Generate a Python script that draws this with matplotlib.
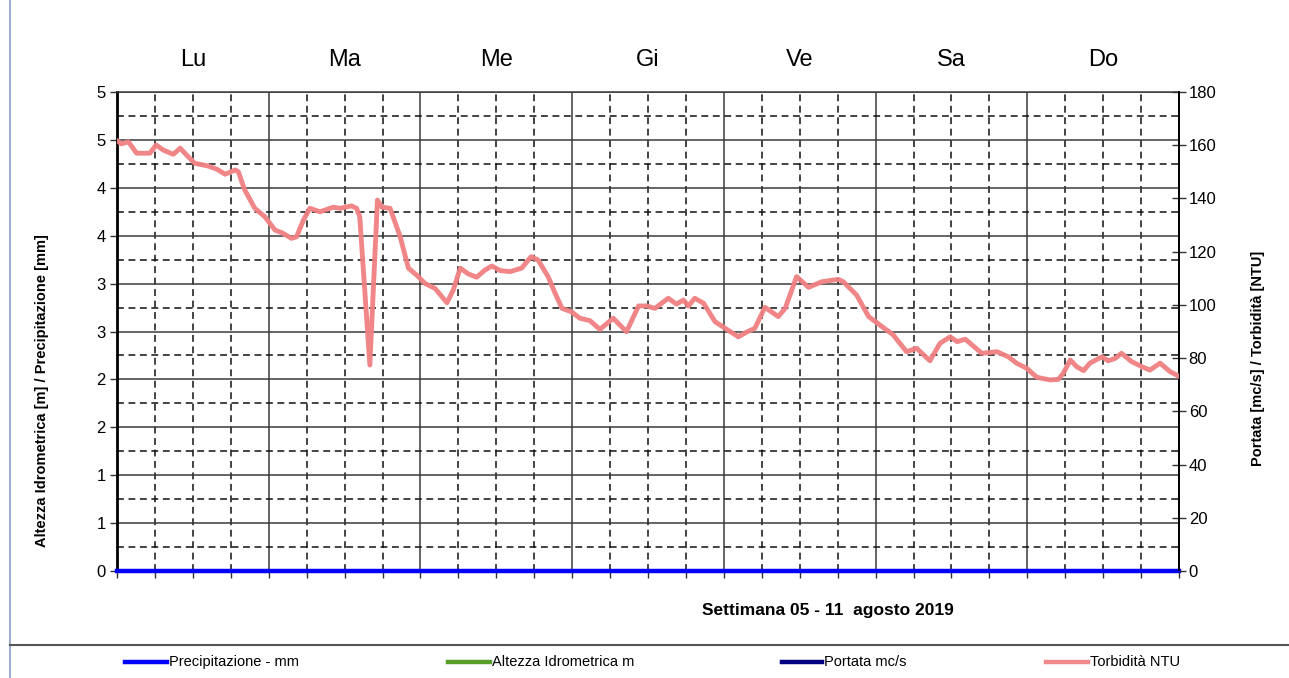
import math
import matplotlib
matplotlib.use("Agg")
import matplotlib.pyplot as plt
from matplotlib.ticker import MultipleLocator, FuncFormatter
from matplotlib.lines import Line2D
from matplotlib.transforms import blended_transform_factory

plt.rcParams['font.family'] = ['Liberation Sans', 'DejaVu Sans']

# ---------------- data ----------------
days = ["Lu", "Ma", "Me", "Gi", "Ve", "Sa", "Do"]
hours_turb = [0, 0.7, 1.8, 3.1, 5.2, 6.2, 7.3, 8.9, 10, 11, 12.3, 14.4, 15.8, 17.1, 18.7, 19.2,
              20.2, 21.8, 23.4, 25, 26.1, 27.6, 28.4, 29.5, 30.5, 32.1, 34.2, 35.3, 37.1, 37.9,
              38.4, 40.0, 41.2, 41.9, 43.2, 44.8, 46.1, 47.4, 48.7, 50.3, 52.2, 53.2, 54.3,
              55.6, 56.9, 58.2, 59.3, 60.6, 62.2, 64.0, 65.5, 66.6, 68.2, 69.3, 70.4, 71.9,
              73.2, 74.8, 76.4, 78.5, 80.6, 82.5, 83.8, 85.1, 87.2, 88.5, 89.6, 90.4, 91.4,
              92.8, 94.6, 96.2, 98.3, 99.7, 100.9, 102.5, 104.6, 105.7, 107.5, 109.4, 111.5,
              114.1, 114.9, 117.0, 118.9, 120.7, 122.8, 124.9, 126.5, 128.6, 130.2, 131.8,
              132.9, 134.2, 136.8, 139.2, 141.0, 142.3, 143.9, 145.5, 147.6, 148.9, 149.7,
              150.8, 151.8, 152.9, 153.9, 155.8, 156.8, 157.9, 158.9, 160.5, 162.1, 163.4,
              165.0, 166.6, 167.9]
torbidita = [161.7, 160.5, 161.3, 157, 157, 160.1, 158.2, 156.6, 158.9, 156.3, 153.2, 152.2,
             151, 149.1, 150.7, 150, 143.2, 136.3, 133.1, 128.1, 127.1, 125, 125.6, 131.9,
             136.3, 135, 136.7, 136.3, 137.2, 136.3, 133.1, 77.4, 139.4, 136.7, 136.3, 125.6,
             113.8, 111.2, 108.1, 106.2, 100.8, 105.6, 113.8, 111.6, 110.4, 113.1, 114.6,
             112.9, 112.5, 113.8, 118.1, 116.9, 110.6, 104.4, 98.7, 97.4, 95, 94.1, 90.8, 95,
             89.9, 99.6, 99.6, 98.7, 102.5, 100.3, 101.8, 99.6, 102.5, 100.6, 93.7, 91.2,
             88.0, 89.9, 91.2, 99.1, 95.6, 98.7, 110.6, 106.6, 108.7, 109.6, 108.7, 103.7,
             95.6, 92.4, 88.7, 82.4, 83.7, 79.0, 85.6, 88.0, 86.2, 87.1, 81.8, 82.4, 80.5,
             78.1, 76.2, 72.8, 71.8, 72.0, 74.3, 79.3, 76.8, 75.3, 78.1, 80.5, 79.0, 79.9,
             81.8, 78.7, 76.8, 75.5, 78.1, 74.9, 73.3]
hours_prec = [0, 168]
precipitazione = [0, 0]

legend_labels = ["Precipitazione - mm", "Altezza Idrometrica m", "Portata mc/s", "Torbidità NTU"]
legend_colors = ["#0000FF", "#5A9E2A", "#000080", "#F08A8C"]

# ---------------- figure ----------------
W, H = 1289, 678
fig = plt.figure(figsize=(W / 100, H / 100), dpi=100)
fig.patch.set_facecolor("white")

def fx(px):
    return px / W

def fy(py):
    return 1 - py / H

left, right, top, bottom = 117, 1179, 92, 571
ax = fig.add_axes([fx(left), fy(bottom), fx(right) - fx(left), fy(top) - fy(bottom)])
ax2 = ax.twinx()

ax.set_xlim(0, 168)
ax.set_ylim(0, 5)
ax2.set_ylim(0, 180)

# grid
ax.xaxis.set_major_locator(MultipleLocator(24))
ax.xaxis.set_minor_locator(MultipleLocator(6))
ax.yaxis.set_major_locator(MultipleLocator(0.5))
ax.yaxis.set_minor_locator(MultipleLocator(0.25))
ax.grid(which="major", color="#3a3a3a", linewidth=1.1, linestyle="-")
ax.grid(which="minor", color="#111111", linewidth=1.1, linestyle=(0, (4.5, 3)))
ax.set_axisbelow(True)

ax.yaxis.set_major_formatter(FuncFormatter(lambda v, p: str(int(math.floor(v + 0.5)))))
ax.tick_params(axis="y", which="major", direction="out", length=5, width=1, color="#333333",
               labelsize=12, pad=3)
ax.tick_params(axis="y", which="minor", length=0)
ax.tick_params(axis="x", which="both", direction="out", length=5, width=1, color="#333333",
               labelbottom=False)
ax2.yaxis.set_major_locator(MultipleLocator(20))
ax2.tick_params(axis="y", direction="inout", length=10, width=1, color="#333333",
                labelsize=12, pad=2)

for sp in ["left"]:
    ax.spines[sp].set_linewidth(2)
    ax.spines[sp].set_color("black")
ax.spines["top"].set_color("#3a3a3a")
ax.spines["top"].set_linewidth(1.1)
for a in (ax, ax2):
    a.spines["right"].set_color("black")
    a.spines["right"].set_linewidth(1.3)
    a.spines["bottom"].set_color("#0000FF")
ax2.spines["left"].set_visible(False)
ax2.spines["top"].set_visible(False)

# series
ax2.plot(hours_turb, torbidita, color="#F08082", linewidth=3.5, solid_joinstyle="round",
         alpha=0.95, zorder=3)
ax.plot(hours_prec, precipitazione, color="#0000FF", linewidth=3.2, clip_on=False, zorder=5)

# day labels
trans = blended_transform_factory(ax.transData, ax.transAxes)
for i, d in enumerate(days):
    ax.text(i * 24 + 12, 1.067, d, transform=trans, ha="center", va="center", fontsize=17)

# axis titles
fig.text(fx(42), fy(391), "Altezza Idrometrica [m] / Precipitazione [mm]", rotation=90,
         ha="center", va="center", fontsize=10.5, fontweight="bold")
fig.text(fx(1258), fy(358), "Portata [mc/s] / Torbidità [NTU]", rotation=90,
         ha="center", va="center", fontsize=10.5, fontweight="bold")
fig.text(fx(828), fy(610), "Settimana 05 - 11  agosto 2019", ha="center", va="center",
         fontsize=12.5, fontweight="bold")

# window borders
fig.add_artist(Line2D([fx(10), fx(10)], [0, 1], color="#9fb0cc", linewidth=1.5))
fig.add_artist(Line2D([fx(10), 1], [fy(645), fy(645)], color="#555555", linewidth=1.5))

# legend
handles_px = [(125, 167), (448, 490), (782, 822), (1046, 1088)]
ly = fy(662)
for (x0, x1), lab, col in zip(handles_px, legend_labels, legend_colors):
    fig.add_artist(Line2D([fx(x0), fx(x1)], [ly, ly], color=col, linewidth=3.2))
    fig.text(fx(x1 + 2), ly, lab, ha="left", va="center", fontsize=10.5)

fig.savefig("out.png", dpi=100, facecolor="white")
